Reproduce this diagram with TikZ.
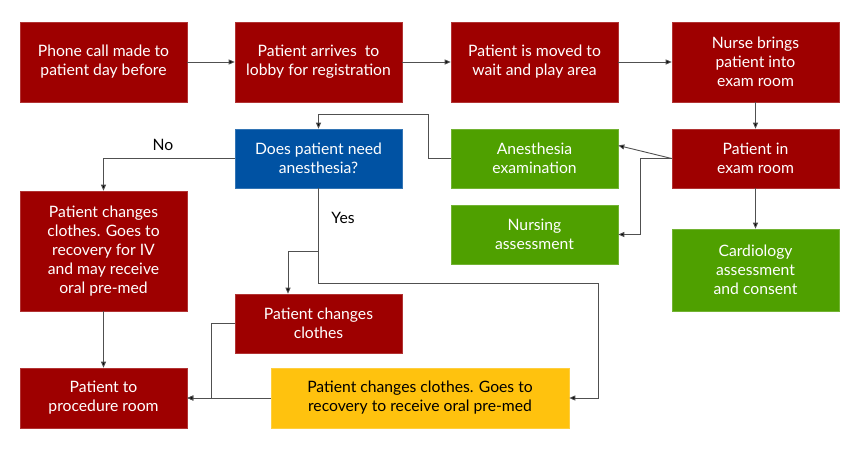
\documentclass[tikz,border=0pt]{standalone}
\usepackage{fontspec}
\setmainfont{Lato}
\usetikzlibrary{arrows.meta,calc}
\definecolor{cred}{HTML}{9E0000}
\definecolor{cblue}{HTML}{0052A3}
\definecolor{cgreen}{HTML}{4FA000}
\definecolor{cyellow}{HTML}{FFC20E}
\definecolor{cline}{HTML}{505050}
\begin{document}
\begin{tikzpicture}[x=1pt,y=-1pt,
  box/.style={minimum width=167pt, inner sep=0pt, align=center, text=white,
    font=\fontsize{15.7}{19}\selectfont},
  rbox/.style={box, fill=cred, draw=cred!80!white, line width=0.6pt},
  bbox/.style={box, fill=cblue, draw=cblue!80!white, line width=0.6pt},
  gbox/.style={box, fill=cgreen, draw=cgreen!80!white, line width=0.6pt},
  ybox/.style={box, fill=cyellow, draw=cyellow!80!white, line width=0.6pt, text=black},
  conn/.style={draw=cline, line width=0.9pt},
  arr/.style={conn, -{Triangle[length=6pt,width=5pt,fill=black]}},
  lbl/.style={font=\fontsize{15.7}{19}\selectfont, text=black, inner sep=0pt}]
\fill[white] (0,0) rectangle (860,450);
\useasboundingbox (0,0) rectangle (860,450);
% row 1
\node[rbox, minimum height=80pt] (a) at (103.5,62) {Phone call made to\\patient day before};
\node[rbox, minimum height=80pt] (b) at (318.5,62) {Patient arrives~ to\\lobby for registration};
\node[rbox, minimum height=80pt] (c) at (534.5,62) {Patient is moved to\\wait and play area};
\node[rbox, minimum height=80pt] (d) at (755.5,62) {Nurse brings\\patient into\\exam room};
% row 2
\node[bbox, minimum height=59pt] (q) at (318.5,158.5) {Does patient need\\anesthesia?};
\node[gbox, minimum height=59pt] (ae) at (534.5,158.5) {Anesthesia\\examination};
\node[rbox, minimum height=59pt] (pe) at (755.5,158.5) {Patient in\\exam room};
\node[gbox, minimum height=59pt] (na) at (534.5,234.5) {Nursing\\assessment};
\node[gbox, minimum height=82pt] (ca) at (755.5,270) {Cardiology\\assessment\\and consent};
\node[rbox, minimum height=120pt] (l1) at (103.5,251) {Patient changes\\clothes. Goes to\\recovery for IV\\and may receive\\oral pre-med};
\node[rbox, minimum height=59pt] (pcc) at (318.5,323.5) {Patient changes\\clothes};
\node[ybox, minimum height=60pt, minimum width=298pt] (y) at (420,398) {Patient changes clothes. Goes to\\recovery to receive oral pre-med};
\node[rbox, minimum height=60pt] (pr) at (103.5,398) {Patient to\\procedure room};
% labels
\node[lbl] (no) at (163,145) {No};
\node[lbl] (yes) at (343,218) {Yes};
% connectors
\draw[arr] (a.east) -- (b.west);
\draw[arr] (b.east) -- (c.west);
\draw[arr] (c.east) -- (d.west);
\draw[arr] (d.south) -- (pe.north);
\draw[arr] (pe.south) -- (ca.north);
\draw[arr] (pe.west) -- ([yshift=13pt]ae.east);
\draw[arr] (pe.west) -- ++(-31,0) |- (na.east);
\draw[arr] (ae.west) -- ++(-22,0) -- ++(0,-44.5) -| (q.north);
\draw[arr] (q.west) -| (l1.north);
\draw[arr] (q.south) -- ++(0,63) -| ([xshift=-30.5pt]pcc.north);
\coordinate (qy) at (598,283);
\draw[arr] (q.south) |- (qy) |- (y.east);
\draw[arr] (y.west) -- (pr.east);
\draw[arr] (pcc.west) -- ++(-23,0) |- (pr.east);
\draw[arr] (l1.south) -- (pr.north);
\end{tikzpicture}
\end{document}
